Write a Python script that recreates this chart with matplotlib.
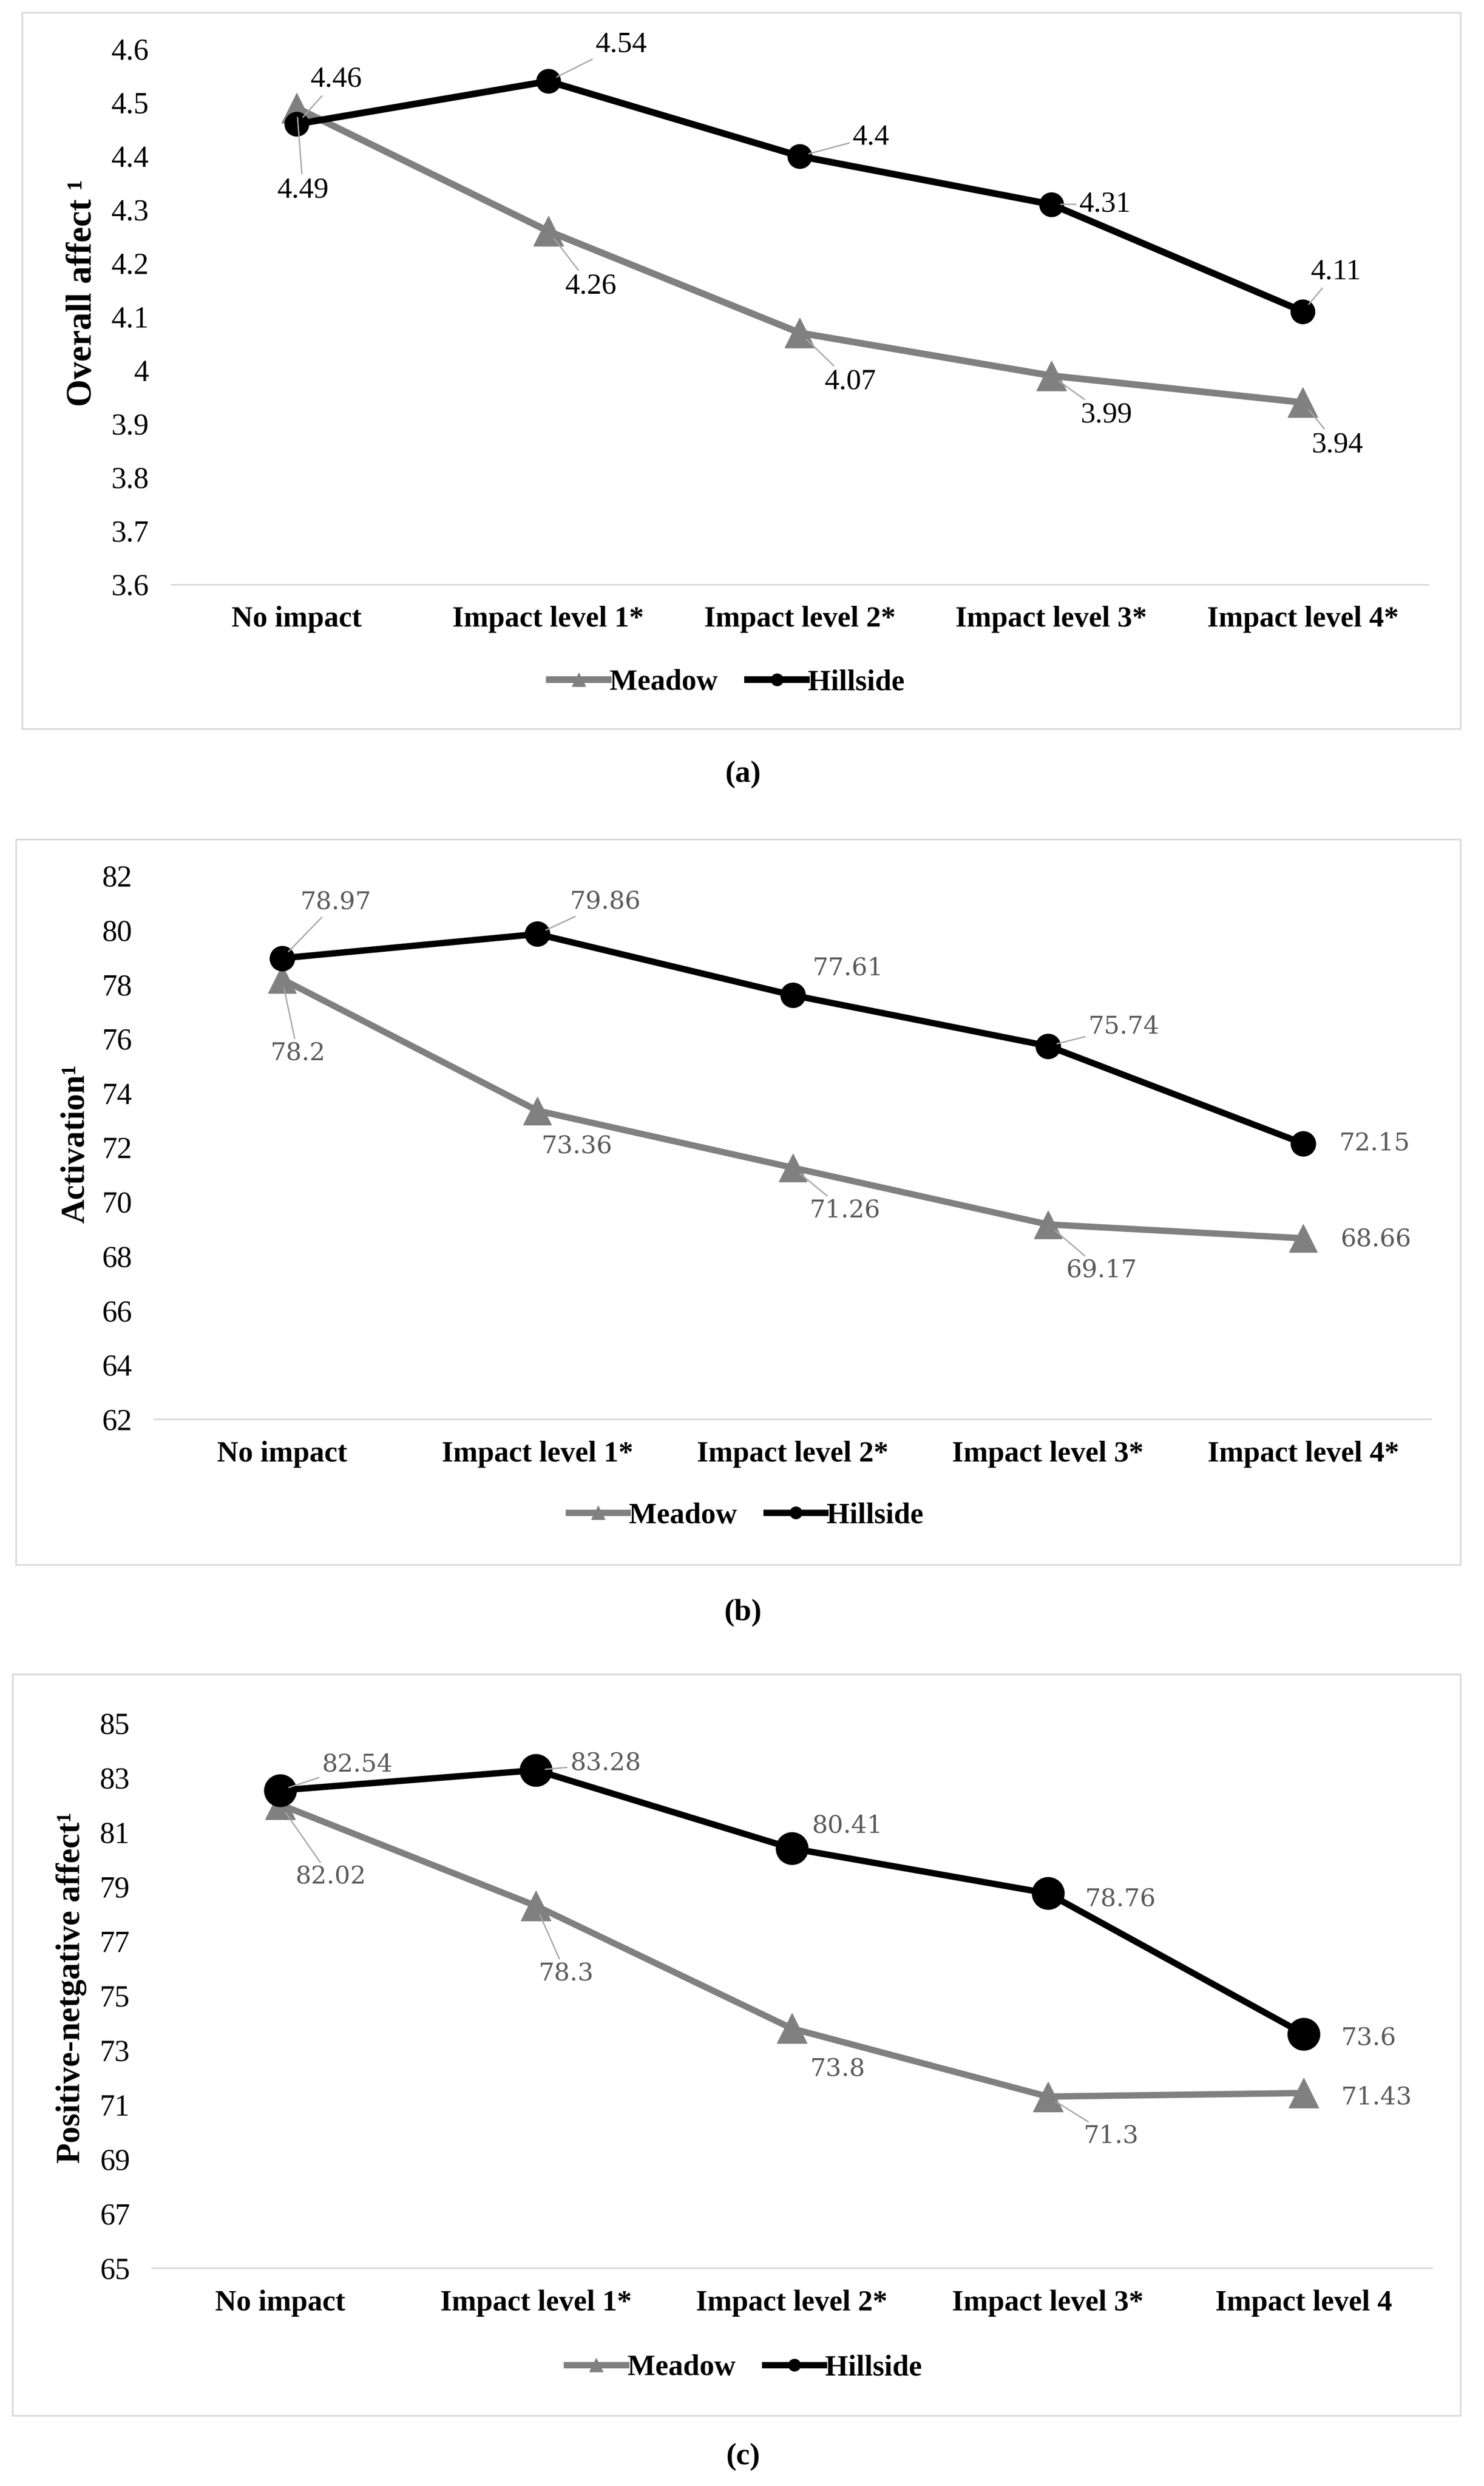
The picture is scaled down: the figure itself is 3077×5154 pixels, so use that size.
import numpy as np
import matplotlib
matplotlib.use('Agg')
import matplotlib.pyplot as plt
from matplotlib.patches import Rectangle
from matplotlib.lines import Line2D

# data
cats_a = ['No impact', 'Impact level 1*', 'Impact level 2*', 'Impact level 3*', 'Impact level 4*']
cats_b = ['No impact', 'Impact level 1*', 'Impact level 2*', 'Impact level 3*', 'Impact level 4*']
cats_c = ['No impact', 'Impact level 1*', 'Impact level 2*', 'Impact level 3*', 'Impact level 4']

meadow_a = [4.49, 4.26, 4.07, 3.99, 3.94]
hillside_a = [4.46, 4.54, 4.4, 4.31, 4.11]
meadow_b = [78.2, 73.36, 71.26, 69.17, 68.66]
hillside_b = [78.97, 79.86, 77.61, 75.74, 72.15]
meadow_c = [82.02, 78.3, 73.8, 71.3, 71.43]
hillside_c = [82.54, 83.28, 80.41, 78.76, 73.6]

yticks_a = [3.6, 3.7, 3.8, 3.9, 4.0, 4.1, 4.2, 4.3, 4.4, 4.5, 4.6]
yticks_b = [62, 64, 66, 68, 70, 72, 74, 76, 78, 80, 82]
yticks_c = [65, 67, 69, 71, 73, 75, 77, 79, 81, 83, 85]

ylabel_a = 'Overall affect \u00b9'
ylabel_b = 'Activation\u00b9'
ylabel_c = 'Positive-netgative affect\u00b9'

# label offsets (in reference pixels at 937 wide) and whether a leader line is drawn
off_h_a = [(25, 28), (46, 23), (45, 12), (34, 0), (21, 25)]
off_m_a = [(4, -52), (27, -35), (32, -31), (35, -25), (22, -27)]
lead_h_a = [1, 1, 1, 1, 1]
lead_m_a = [1, 1, 1, 1, 1]
off_h_b = [(34, 35), (43, 20), (35, 17), (48, 12), (45, 0)]
off_m_b = [(10, -47), (25, -23), (33, -27), (34, -29), (46, -1)]
lead_h_b = [1, 1, 0, 1, 0]
lead_m_b = [1, 0, 1, 1, 0]
off_h_c = [(49, 16), (44, 4), (35, 14), (46, -4), (41, -3)]
off_m_c = [(32, -46), (19, -43), (29, -26), (40, -25), (46, -3)]
lead_h_c = [1, 1, 0, 0, 0]
lead_m_c = [1, 1, 0, 1, 0]

W, H = 937.0, 1569.5
def fx(x):
    return x / W
def fy(y):
    return 1 - y / H
PT = 3.284 * 0.72  # ref pixel -> points

serif = 'Liberation Serif'
fig = plt.figure(figsize=(30.77, 51.54), dpi=100)

panels = [
    dict(cats=cats_a, m=meadow_a, h=hillside_a, yt=yticks_a, yl=ylabel_a,
         om=off_m_a, oh=off_h_a, lm=lead_m_a, lh=lead_h_a,
         box=(14, 8, 922, 460), ax=(108, 31, 902, 369), ylx=52, yly=185, ylsize=53,
         leg=(459, 431), cap='(a)', capy=489, lblfont=serif, lblcol='black', lblsize=44,
         ms=(44, 36), lw=10),
    dict(cats=cats_b, m=meadow_b, h=hillside_b, yt=yticks_b, yl=ylabel_b,
         om=off_m_b, oh=off_h_b, lm=lead_m_b, lh=lead_h_b,
         box=(10, 530, 922, 988), ax=(97.5, 553, 903.5, 896), ylx=48, yly=722, ylsize=50,
         leg=(471, 957), cap='(b)', capy=1018, lblfont='DejaVu Serif', lblcol='#595959', lblsize=37,
         ms=(42, 37), lw=9.5),
    dict(cats=cats_c, m=meadow_c, h=hillside_c, yt=yticks_c, yl=ylabel_c,
         om=off_m_c, oh=off_h_c, lm=lead_m_c, lh=lead_h_c,
         box=(8, 1057, 922, 1525), ax=(96, 1088, 904, 1432), ylx=45, yly=1255, ylsize=50,
         leg=(470, 1495), cap='(c)', capy=1551, lblfont='DejaVu Serif', lblcol='#595959', lblsize=37,
         ms=(44, 48), lw=9.5),
]

grey = '#808080'
for p in panels:
    x0, y0, x1, y1 = p['box']
    fig.patches.append(Rectangle((fx(x0), fy(y1)), fx(x1) - fx(x0), fy(y0) - fy(y1),
                                 transform=fig.transFigure, fill=False,
                                 edgecolor='#D9D9D9', linewidth=2.5))
    l, t, r, b = p['ax']
    ax = fig.add_axes([fx(l), fy(b), fx(r) - fx(l), fy(t) - fy(b)])
    x = np.arange(len(p['cats']))
    ax.plot(x, p['m'], color=grey, lw=p['lw'], marker='^', ms=p['ms'][0], zorder=3)
    ax.plot(x, p['h'], color='black', lw=p['lw'], marker='o', ms=p['ms'][1], zorder=4)
    ax.set_xlim(-0.5, len(x) - 0.5)
    ax.set_ylim(p['yt'][0], p['yt'][-1])
    ax.set_yticks(p['yt'])
    ax.set_yticklabels([f'{v:g}' for v in p['yt']], fontfamily=serif, fontsize=45)
    ax.set_xticks(x)
    ax.set_xticklabels(p['cats'], fontfamily=serif, fontsize=44, fontweight='bold')
    ax.tick_params(axis='both', length=0)
    ax.tick_params(axis='y', pad=33)
    ax.tick_params(axis='x', pad=32)
    for s in ['top', 'right', 'left']:
        ax.spines[s].set_visible(False)
    ax.spines['bottom'].set_color('#D9D9D9')
    ax.spines['bottom'].set_linewidth(2.5)

    for vals, offs, leads in [(p['h'], p['oh'], p['lh']), (p['m'], p['om'], p['lm'])]:
        for i, v in enumerate(vals):
            dx, dy = offs[i]
            ap = None
            if leads[i]:
                ap = dict(arrowstyle='-', color='#A6A6A6', lw=2, shrinkA=3, shrinkB=14)
            ax.annotate(f'{v:g}', (x[i], v), xytext=(dx * PT, dy * PT),
                        textcoords='offset points', ha='center', va='center',
                        fontsize=p['lblsize'], fontfamily=p['lblfont'], color=p['lblcol'],
                        arrowprops=ap, zorder=5)

    fig.text(fx(p['ylx']), fy(p['yly']), p['yl'], rotation=90, ha='center', va='center',
             fontfamily=serif, fontsize=p['ylsize'], fontweight='bold')

    handles = [Line2D([], [], color=grey, lw=p['lw'], marker='^', ms=20),
               Line2D([], [], color='black', lw=p['lw'], marker='o', ms=18)]
    fig.legend(handles, ['Meadow', 'Hillside'], loc='center',
               bbox_to_anchor=(fx(p['leg'][0]), fy(p['leg'][1])), ncol=2, frameon=False,
               prop=dict(family=serif, size=44, weight='bold'),
               handlelength=2.0, handletextpad=0.05, columnspacing=1.0)

    fig.text(fx(469), fy(p['capy']), p['cap'], ha='center', va='center',
             fontfamily=serif, fontsize=46, fontweight='bold')

plt.savefig('out.png', dpi=100)
